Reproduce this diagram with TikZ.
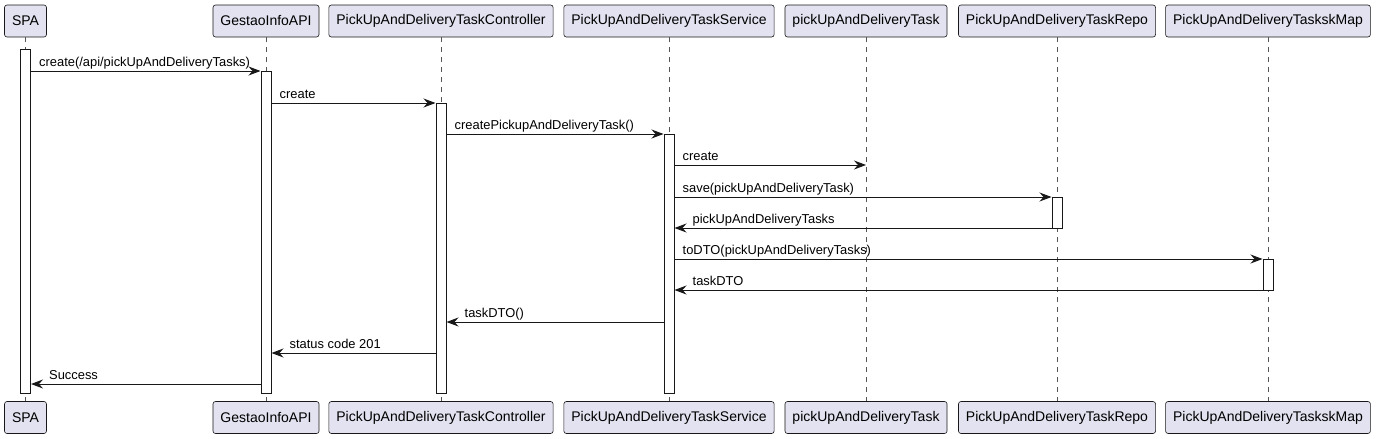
\documentclass[tikz,border=0pt]{standalone}
\usepackage{fontspec}
\setmainfont{Liberation Sans}
\usepackage{xcolor}
\usetikzlibrary{arrows.meta,positioning}
\definecolor{actorfill}{HTML}{E2E2F0}
\definecolor{ink}{HTML}{181818}
\definecolor{lifegray}{HTML}{555555}
\tikzset{
  participant/.style={
    draw=ink, fill=actorfill, rounded corners=2.5pt, line width=0.6pt,
    minimum height=32pt, inner xsep=7.5pt, inner ysep=0pt,
    font=\fontsize{14}{16}\selectfont
  },
  lifeline/.style={draw=lifegray, line width=0.6pt, dash pattern=on 5pt off 5pt},
  actbar/.style={draw=ink, fill=white, line width=1pt, minimum width=10pt, inner sep=0pt},
  msg/.style={-{Stealth[length=12pt,width=9pt,inset=4pt]}, draw=ink, line width=1pt},
  msglabel/.style={font=\fontsize{12.9}{15}\selectfont, anchor=base west, inner sep=0pt}
}

\begin{document}
\begin{tikzpicture}[x=1pt,y=-1pt]
  \useasboundingbox (0,0) rectangle (1376,439);

  % Participants (top)
  \node[participant] (spa) at (25.5,21) {SPA};
  \node[participant] (api) at (266,21) {GestaoInfoAPI};
  \node[participant] (ctrl) at (441,21) {PickUpAndDeliveryTaskController};
  \node[participant] (svc) at (669,21) {PickUpAndDeliveryTaskService};
  \node[participant] (task) at (866,21) {pickUpAndDeliveryTask};
  \node[participant] (repo) at (1057,21) {PickUpAndDeliveryTaskRepo};
  \node[participant] (map) at (1268,21) {PickUpAndDeliveryTaskskMap};

  % Participants (bottom)
  \coordinate (foot) at (0,417.5);
  \node[participant] (spab) at (spa |- foot) {SPA};
  \node[participant] (apib) at (api |- foot) {GestaoInfoAPI};
  \node[participant] (ctrlb) at (ctrl |- foot) {PickUpAndDeliveryTaskController};
  \node[participant] (svcb) at (svc |- foot) {PickUpAndDeliveryTaskService};
  \node[participant] (taskb) at (task |- foot) {pickUpAndDeliveryTask};
  \node[participant] (repob) at (repo |- foot) {PickUpAndDeliveryTaskRepo};
  \node[participant] (mapb) at (map |- foot) {PickUpAndDeliveryTaskskMap};

  % Lifelines
  \draw[lifeline] (spa.south) -- (spab.north);
  \draw[lifeline] (api.south) -- (apib.north);
  \draw[lifeline] (ctrl.south) -- (ctrlb.north);
  \draw[lifeline] (svc.south) -- (svcb.north);
  \draw[lifeline] (task.south) -- (taskb.north);
  \draw[lifeline] (repo.south) -- (repob.north);
  \draw[lifeline] (map.south) -- (mapb.north);

  % Message rows
  \coordinate (r0) at (0,49);
  \coordinate (r1) at (0,71);
  \coordinate (r2) at (0,103);
  \coordinate (r3) at (0,134);
  \coordinate (r4) at (0,165);
  \coordinate (r5) at (0,197);
  \coordinate (r6) at (0,228);
  \coordinate (r7) at (0,259);
  \coordinate (r8) at (0,290);
  \coordinate (r9) at (0,322);
  \coordinate (r10) at (0,353);
  \coordinate (r11) at (0,384);

  % Activation bars
  \node[actbar, anchor=north, minimum height=344pt] (spaact) at (spa |- r0) {};
  \node[actbar, anchor=north, minimum height=322pt] (apiact) at (api |- r1) {};
  \node[actbar, anchor=north, minimum height=290pt] (ctrlact) at (ctrl |- r2) {};
  \node[actbar, anchor=north, minimum height=259pt] (svcact) at (svc |- r3) {};
  \node[actbar, anchor=north, minimum height=31pt] (repoact) at (repo |- r5) {};
  \node[actbar, anchor=north, minimum height=31pt] (mapact) at (map |- r7) {};

  % Calls
  \draw[msg] (spaact.east |- r1) -- (apiact.west |- r1);
  \node[msglabel] (l1) at ([xshift=8pt,yshift=5pt]spaact.east |- r1) {create(/api/pickUpAndDeliveryTasks)};
  \draw[msg] (apiact.east |- r2) -- (ctrlact.west |- r2);
  \node[msglabel] (l2) at ([xshift=8pt,yshift=5pt]apiact.east |- r2) {create};
  \draw[msg] (ctrlact.east |- r3) -- (svcact.west |- r3);
  \node[msglabel] (l3) at ([xshift=8pt,yshift=5pt]ctrlact.east |- r3) {createPickupAndDeliveryTask()};
  \draw[msg] (svcact.east |- r4) -- (task |- r4);
  \node[msglabel] (l4) at ([xshift=8pt,yshift=5pt]svcact.east |- r4) {create};
  \draw[msg] (svcact.east |- r5) -- (repoact.west |- r5);
  \node[msglabel] (l5) at ([xshift=8pt,yshift=5pt]svcact.east |- r5) {save(pickUpAndDeliveryTask)};
  \draw[msg] (svcact.east |- r7) -- (mapact.west |- r7);
  \node[msglabel] (l7) at ([xshift=8pt,yshift=5pt]svcact.east |- r7) {toDTO(pickUpAndDeliveryTasks)};

  % Returns
  \draw[msg] (repoact.west |- r6) -- (svcact.east |- r6);
  \node[msglabel] (l6) at ([xshift=18pt,yshift=5pt]svcact.east |- r6) {pickUpAndDeliveryTasks};
  \draw[msg] (mapact.west |- r8) -- (svcact.east |- r8);
  \node[msglabel] (l8) at ([xshift=18pt,yshift=5pt]svcact.east |- r8) {taskDTO};
  \draw[msg] (svcact.west |- r9) -- (ctrlact.east |- r9);
  \node[msglabel] (l9) at ([xshift=18pt,yshift=5pt]ctrlact.east |- r9) {taskDTO()};
  \draw[msg] (ctrlact.west |- r10) -- (apiact.east |- r10);
  \node[msglabel] (l10) at ([xshift=18pt,yshift=5pt]apiact.east |- r10) {status code 201};
  \draw[msg] (apiact.west |- r11) -- (spaact.east |- r11);
  \node[msglabel] (l11) at ([xshift=18pt,yshift=5pt]spaact.east |- r11) {Success};
\end{tikzpicture}
\end{document}
